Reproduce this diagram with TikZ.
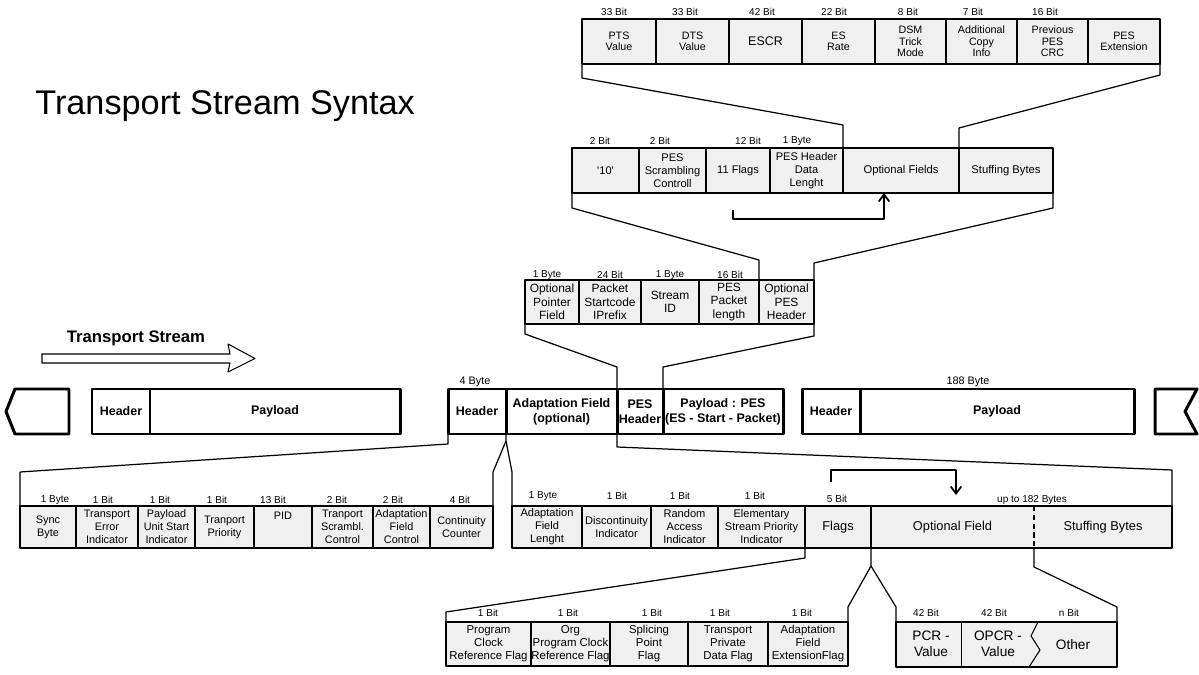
\documentclass[tikz,border=0pt]{standalone}
\usepackage{fontspec}
\setmainfont{Liberation Sans}
\usetikzlibrary{arrows.meta,calc}
\definecolor{fieldgray}{RGB}{240,240,240}
\begin{document}
\begin{tikzpicture}[x=0.02cm, y=-0.02cm, line join=round,
    cell/.style={draw, fill=fieldgray, line width=1pt, inner sep=0pt, outer sep=0pt, align=center},
    tsbox/.style={draw, fill=white, line width=1.7pt, inner sep=0pt, outer sep=0pt, align=center, font=\fontsize{7.1}{8.4}\selectfont\bfseries},
    bits/.style={inner sep=0pt, font=\fontsize{5.7}{6.5}\selectfont},
    conn/.style={line width=0.7pt},
    flow/.style={conn, -{Straight Barb[length=4pt,width=6pt,line width=1pt]}}]
\useasboundingbox (0,0) rectangle (1199,675);

\node[anchor=base west, inner sep=0pt, font=\fontsize{19.5}{22}\selectfont] (title) at (35,115) {Transport Stream Syntax};

% PES optional fields
\def\rt{19}\def\rb{64}\def\rs{6.6}
\foreach \l/\r/\n/\sz/\txt in {582/656/pts/6.1/{PTS\\Value}, 656/729/dts/6.1/{DTS\\Value},
    729/802/escr/7.1/{ESCR}, 802/875/esrate/6.1/{ES\\Rate}, 875/946/dsm/6.1/{DSM\\Trick\\Mode},
    946/1017/addcopy/6.1/{Additional\\Copy\\Info}, 1017/1088/prevcrc/6.1/{Previous\\PES\\CRC},
    1088/1160/pesext/6.1/{PES\\Extension}}
  \node[cell, font=\fontsize{\sz}{\rs}\selectfont, minimum width={(\r-\l)*0.02cm}, minimum height={(\rb-\rt)*0.02cm}] (\n) at ({(\l+\r)/2},{(\rt+\rb)/2}) {\txt};
\foreach \x/\n/\bl in {614/ptsbit/33 Bit, 685/dtsbit/33 Bit, 762/escrbit/42 Bit, 834/esratebit/22 Bit,
    908/dsmbit/8 Bit, 973/addcopybit/7 Bit, 1045/prevcrcbit/16 Bit}
  \node[bits] (\n) at (\x,12) {\bl};

% optional PES header
\def\rt{148}\def\rb{193}\def\rs{7.4}
\foreach \l/\r/\n/\sz/\txt in {572/639/ten/6.3/{\textquotesingle10\textquotesingle}, 639/706/pessc/6.3/{PES\\Scrambling\\Controll},
    706/770/flagsb/6.3/{11 Flags}, 770/843/hdrlen/6.3/{PES Header\\Data\\Lenght},
    843/959/optb/6.4/{Optional Fields}, 959/1053/stuffb/6.4/{Stuffing Bytes}}
  \node[cell, font=\fontsize{\sz}{\rs}\selectfont, minimum width={(\r-\l)*0.02cm}, minimum height={(\rb-\rt)*0.02cm}] (\n) at ({(\l+\r)/2},{(\rt+\rb)/2}) {\txt};
\foreach \x/\n/\bl in {600/tenbit/2 Bit, 660/pesscbit/2 Bit, 748/flagsbbit/12 Bit, 797/hdrlenbit/1 Byte}
  \node[bits] (\n) at (\x,141) {\bl};

% PES packet header
\def\rt{280}\def\rb{324}\def\rs{7.6}
\foreach \l/\r/\n/\txt in {525/579/ptr/{Optional\\Pointer\\Field}, 579/641/startcode/{Packet\\Startcode\\IPrefix},
    641/699/streamid/{Stream\\ID}, 699/759/pktlen/{PES\\Packet\\length}, 759/814/optpes/{Optional\\PES\\Header}}
  \node[cell, font=\fontsize{6.8}{\rs}\selectfont, minimum width={(\r-\l)*0.02cm}, minimum height={(\rb-\rt)*0.02cm}] (\n) at ({(\l+\r)/2},{(\rt+\rb)/2}) {\txt};
\foreach \x/\n/\bl in {547/ptrbit/1 Byte, 610/startcodebit/24 Bit, 670/streamidbit/1 Byte, 730/pktlenbit/16 Bit}
  \node[bits] (\n) at (\x,275) {\bl};

% transport stream
\draw[line width=0.6pt] (42,354) -- (230,354) -- (228,344) -- (255,358.5) -- (228,372) -- (230,363) -- (42,363) -- cycle;
\node[font=\fontsize{9.5}{11}\selectfont\bfseries] (tslabel) at (136,338) {Transport Stream};
\draw[line width=1.7pt, fill=white] (69,389) -- (15,389) -- (6,411.5) -- (15,434) -- (69,434) -- cycle;
\draw[line width=1.7pt, fill=white] (1155,389) -- (1197,389) -- (1185,411.5) -- (1197,434) -- (1155,434) -- cycle;
\def\rt{389}\def\rb{434}
\foreach \l/\r/\n/\txt in {92/150/hdra/{Header}, 150/400/paya/{Payload}, 448/506/hdrb/{Header},
    506/617/adapt/{Adaptation Field\\(optional)}, 617/663/pesh/{PES\\Header},
    663/783/payb/{Payload : PES\\(ES - Start - Packet)}, 802/860/hdrc/{Header}, 860/1134/payc/{Payload}}
  \node[tsbox, minimum width={(\r-\l)*0.02cm}, minimum height={(\rb-\rt)*0.02cm}] (\n) at ({(\l+\r)/2},{(\rt+\rb)/2}) {\txt};
\node[bits, font=\fontsize{6.2}{7}\selectfont] (hdrbyte) at (475,382) {4 Byte};
\node[bits, font=\fontsize{6.2}{7}\selectfont] (pktbyte) at (968,382) {188 Byte};

% TS header fields
\def\rt{506}\def\rb{548}\def\rs{7.4}
\foreach \l/\r/\n/\txt in {20/76/sync/{Sync\\Byte}, 76/138/tei/{Transport\\Error\\Indicator},
    138/195/pusi/{Payload\\Unit Start\\Indicator}, 195/254/tprio/{Tranport\\Priority}, 254/312/pid/{},
    312/373/tsc/{Tranport\\Scrambl.\\Control}, 373/430/afc/{Adaptation\\Field\\Control}, 430/493/cc/{Continuity\\Counter}}
  \node[cell, font=\fontsize{6.2}{\rs}\selectfont, minimum width={(\r-\l)*0.02cm}, minimum height={(\rb-\rt)*0.02cm}] (\n) at ({(\l+\r)/2},{(\rt+\rb)/2}) {\txt};
\node[inner sep=0pt, font=\fontsize{6.2}{7}\selectfont] (pidtxt) at (283,516) {PID};
\foreach \x/\n/\bl in {55/syncbit/1 Byte, 103/teibit/1 Bit, 160/pusibit/1 Bit, 217/tpriobit/1 Bit,
    273/pidbit/13 Bit, 337/tscbit/2 Bit, 393/afcbit/2 Bit, 460/ccbit/4 Bit}
  \node[bits] (\n) at (\x,500) {\bl};

% adaptation field
\foreach \l/\r/\n/\sz/\txt in {512/582/afl/6.3/{Adaptation\\Field\\Lenght}, 582/651/disc/6.3/{Discontinuity\\Indicator},
    651/718/rai/6.3/{Random\\Access\\Indicator}, 718/805/espi/6.3/{Elementary\\Stream Priority\\Indicator},
    805/871/flagse/7.3/{Flags}, 871/1172/optarea/7.3/{}}
  \node[cell, font=\fontsize{\sz}{\rs}\selectfont, minimum width={(\r-\l)*0.02cm}, minimum height={(\rb-\rt)*0.02cm}] (\n) at ({(\l+\r)/2},{(\rt+\rb)/2}) {\txt};
\coordinate (dasht) at (1034,506);
\coordinate (dashb) at (1034,548);
\draw[line width=0.7pt, dash pattern=on 3pt off 2pt] (dasht) -- (dashb);
\node[font=\fontsize{7.3}{8}\selectfont] (optf) at (952.5,527) {Optional Field};
\node[font=\fontsize{7.3}{8}\selectfont] (stuffe) at (1103,527) {Stuffing Bytes};
\foreach \x/\y/\n/\bl in {543/496/aflbit/1 Byte, 617/496/discbit/1 Bit, 680/496/raibit/1 Bit, 755/496/espibit/1 Bit,
    837/499/flagsebit/5 Bit, 1032/500/optareabit/up to 182 Bytes}
  \node[bits] (\n) at (\x,\y) {\bl};

% adaptation field flags
\def\rt{622}\def\rb{666}\def\rs{7.4}
\foreach \l/\r/\n/\txt in {446/531/pcrf/{Program\\Clock\\Reference Flag}, 531/610/opcrf/{Org\\Program Clock\\Reference Flag},
    610/688/splice/{Splicing\\Point\\Flag}, 688/768/tpriv/{Transport\\Private\\Data Flag},
    768/848/afef/{Adaptation\\Field\\ExtensionFlag}}
  \node[cell, font=\fontsize{6.5}{\rs}\selectfont, minimum width={(\r-\l)*0.02cm}, minimum height={(\rb-\rt)*0.02cm}] (\n) at ({(\l+\r)/2},{(\rt+\rb)/2}) {\txt};
\foreach \x/\n/\bl in {488/pcrfbit/1 Bit, 568/opcrfbit/1 Bit, 652/splicebit/1 Bit, 720/tprivbit/1 Bit, 802/afefbit/1 Bit}
  \node[bits] (\n) at (\x,613) {\bl};

% optional field contents
\node[cell, minimum width=221*0.02cm, minimum height=45*0.02cm] (optsub) at (1006.5,644.5) {};
\draw[line width=0.5pt] (961,622) -- (961,667);
\draw[line width=0.6pt] (1038,622) -- (1031,636) -- (1040,650) -- (1029,667);
\node[align=center, font=\fontsize{7.8}{9.2}\selectfont] (pcr) at (931,644) {PCR -\\Value};
\node[align=center, font=\fontsize{7.8}{9.2}\selectfont] (opcr) at (998,644) {OPCR -\\Value};
\node[font=\fontsize{7.8}{9.2}\selectfont] (other) at (1073,645) {Other};
\foreach \x/\n/\bl in {926/pcrbit/42 Bit, 994/opcrbit/42 Bit, 1069/otherbit/n Bit}
  \node[bits] (\n) at (\x,613) {\bl};

% expansion lines
\draw[conn] (pts.south west) -- ++(0,14) -- ($(optb.north west)+(0,-23)$) -- (optb.north west);
\draw[conn] (pesext.south east) -- ++(0,11) -- ($(stuffb.north west)+(0,-20)$) -- (stuffb.north west);
\draw[flow] ($(flagsb.south)+(-5,17)$) |- ($(optb.south)+(-17,26)$) -- ($(optb.south)+(-17,0)$);
\draw[conn] (ten.south west) -- ++(0,15) -- ($(optpes.north west)+(0,-20)$) -- (optpes.north west);
\draw[conn] (stuffb.south east) -- ++(0,15) -- ($(optpes.north east)+(0,-17)$) -- (optpes.north east);
\draw[conn] (ptr.south west) -- ++(0,10) -- ($(pesh.north west)+(0,-22)$) -- (pesh.north west);
\draw[conn] (optpes.south east) -- ++(0,12) -- ($(pesh.north east)+(0,-22)$) -- (pesh.north east);
\coordinate (afork) at ($(hdrb.south east)+(0,7)$);
\draw[conn] (hdrb.south west) -- ++(0,10) -- ($(sync.north west)+(0,-34)$) -- (sync.north west);
\draw[conn] (hdrb.south east) -- (afork) -- ($(cc.north east)+(0,-34)$) -- (cc.north east);
\draw[conn] (afork) -- ($(afl.north west)+(0,-34)$) -- (afl.north west);
\draw[conn] (adapt.south east) -- ++(0,13) -- ($(optarea.north east)+(0,-36)$) -- (optarea.north east);
\draw[flow] ($(flagse.north)+(-7,-24)$) -- ++(0,-12) -- ++(125,0) -- ++(0,25);
\coordinate (ffork) at ($(flagse.south east)+(0,18)$);
\draw[conn] (flagse.south west) -- ++(0,10) -- ($(pcrf.north west)+(0,-10)$) -- (pcrf.north west);
\draw[conn] (flagse.south east) -- (ffork) -- ($(afef.north east)+(0,-15)$) -- (afef.north east);
\draw[conn] (ffork) -- ($(optsub.north west)+(0,-15)$) -- (optsub.north west);
\draw[conn] (dashb) -- ++(0,19) -- ($(optsub.north east)+(0,-15)$) -- (optsub.north east);
\end{tikzpicture}
\end{document}
